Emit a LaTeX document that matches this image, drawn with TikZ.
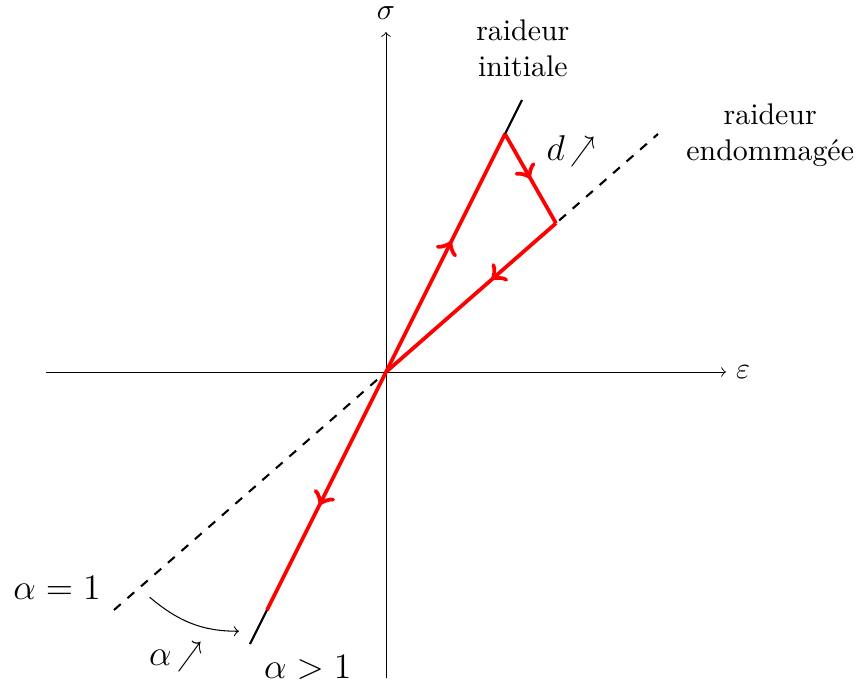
\documentclass[tikz,border=0pt]{standalone}
\usepackage{graphicx}
\usetikzlibrary{decorations.markings}
\newcommand{\smallne}{\scalebox{0.7}[0.95]{$\nearrow$}}
\begin{document}
\begin{tikzpicture}[
  axis/.style={->, line width=0.3pt},
  redline/.style={red, line width=1.25pt},
  stiff/.style={line width=0.7pt},
  dmg/.style={dashed, line width=0.7pt},
  midarrow/.style={postaction={decorate}, decoration={markings, mark=at position #1 with {\arrow[scale=1.25]{to}}}},
  lbl/.style={align=center, inner sep=1pt},
  mlbl/.style={inner sep=1pt, font=\large}
]
\useasboundingbox (-4.541,-3.682) rectangle (5.647,4.376);
\coordinate (O) at (0,0);
\coordinate (xl) at (-4,0);
\coordinate (xr) at (4,0);
\coordinate (yb) at (0,-3.6);
\coordinate (yt) at (0,4);
\coordinate (A) at (1.4,2.8);
\coordinate (B) at (2,1.75);
\coordinate (C) at (-1.4,-2.8);
\coordinate (Itop) at (1.6,3.2);
\coordinate (Ibot) at (-1.6,-3.2);
\coordinate (Dtop) at (3.2,2.8);
\coordinate (Dbot) at (-3.2,-2.8);
\coordinate (cs) at (-2.78,-2.65);
\coordinate (ce) at (-1.73,-3.05);

\draw[axis] (xl) -- (xr);
\draw[axis] (yb) -- (yt);
\node[inner sep=0.5pt] (eps) at (4.2,0) {$\varepsilon$};
\node[inner sep=0.5pt] (sig) at (0,4.22) {$\sigma$};

\draw[dmg] (Dbot) -- (Dtop);
\draw[stiff] (Ibot) -- (Itop);

\draw[redline, midarrow=0.55] (O) -- (A);
\draw[redline, midarrow=0.5] (A) -- (B);
\draw[redline, midarrow=0.38] (B) -- (O);
\draw[redline, midarrow=0.56] (O) -- (C);

\node[lbl] (ri) at (1.61,3.81) {raideur\\initiale};
\node[lbl] (re) at (4.52,2.79) {raideur\\endommag\'ee};
\node[mlbl] (d) at (2.18,2.6) {$d$\,\smallne};
\node[mlbl] (a1) at (-3.87,-2.54) {$\alpha=1$};
\node[mlbl] (aup) at (-2.47,-3.35) {$\alpha$\,\smallne};
\node[mlbl] (ag) at (-0.92,-3.48) {$\alpha>1$};
\draw[->, line width=0.35pt] (cs) to[out=-40, in=180] (ce);
\end{tikzpicture}
\end{document}
